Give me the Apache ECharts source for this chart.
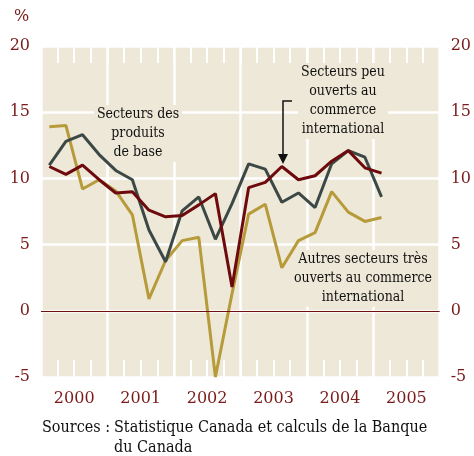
<!DOCTYPE html>
<html>
<head>
<meta charset="utf-8">
<script src="https://cdn.jsdelivr.net/npm/echarts@6/dist/echarts.min.js"></script>
<style>
html,body{margin:0;padding:0;background:#fff;}
#c{width:474px;height:456px;}
</style>
</head>
<body>
<div id="c"></div>
<script>
var years = ['2000','2001','2002','2003','2004','2005'];
var quarters = [];
years.forEach(function(y){ for (var q=1;q<=4;q++) quarters.push(y+'T'+q); });
var yTicks = [-5, 0, 5, 10, 15, 20];

// Secteurs peu ouverts au commerce international
var peuOuverts = [10.9, 10.3, 11.0, 9.9, 8.9, 9.0, 7.6, 7.1, 7.2, 8.0, 8.85, 1.8, 9.3, 9.7, 10.9, 9.9, 10.2, 11.3, 12.1, 10.8, 10.4];
// Secteurs des produits de base
var produitsBase = [11.0, 12.8, 13.3, 11.8, 10.6, 9.9, 6.1, 3.7, 7.55, 8.6, 5.4, 8.1, 11.1, 10.7, 8.2, 8.9, 7.8, 11.1, 12.1, 11.6, 8.6];
// Autres secteurs très ouverts au commerce international
var autresOuverts = [13.9, 14.0, 9.2, 9.9, 9.05, 7.25, 0.9, 3.8, 5.3, 5.55, -5.0, 1.3, 7.3, 8.05, 3.25, 5.3, 5.9, 9.0, 7.45, 6.75, 7.05];

var MAROON = '#7a1b1b';
var BG = '#ede8d7';
var SERIF = '"DejaVu Serif", serif';
var SERIF_C = '"DejaVu Serif Condensed", "DejaVu Serif", serif';

var chart = echarts.init(document.getElementById('c'), null, {renderer:'canvas'});

var tickAxis = function(pos){
  return {
    type:'category', data: quarters, position: pos, boundaryGap: true,
    axisLine:{show:false, onZero:false},
    axisTick:{show:true, inside:true, length:17, interval:0, lineStyle:{color:'#ffffff', width:2}},
    axisLabel:{show:false}, splitLine:{show:false}
  };
};

var yAxisBase = function(pos, split){
  return {
    type:'value', position: pos, min: yTicks[0], max: yTicks[yTicks.length-1], interval: 5,
    axisLine:{show:false, onZero:false}, axisTick:{show:false},
    axisLabel:{show:true, color: MAROON, fontSize:16, fontFamily: SERIF, margin: 11},
    splitLine:{show: split, lineStyle:{color:'#ffffff', width:2.5}}
  };
};

var annot = function(x, y, txt){
  return {type:'text', x:x, y:y, z:1, style:{text:txt, fill:'#111', font:'14px '+SERIF_C,
    align:'center', verticalAlign:'top', lineHeight:19, backgroundColor: BG, padding:[0,3]}};
};

chart.setOption({
  animation:false,
  backgroundColor:'#ffffff',
  grid:{left:41, right:32, top:46, height:331, show:true, backgroundColor: BG, borderWidth:0},
  xAxis:[
    tickAxis('bottom'),
    tickAxis('top'),
    {
      type:'category', data: years, position:'bottom', boundaryGap:true,
      axisLine:{show:false, onZero:false}, axisTick:{show:false},
      axisLabel:{show:true, color: MAROON, fontSize:16, fontFamily: SERIF, margin:14},
      splitLine:{show:true, lineStyle:{color:'#ffffff', width:2.5}}
    }
  ],
  yAxis:[ yAxisBase('left', true), yAxisBase('right', false) ],
  series:[
    {type:'line', name:'Autres secteurs très ouverts', data: autresOuverts, xAxisIndex:0, yAxisIndex:0, z:3,
     symbol:'none', lineStyle:{color:'#b79b3b', width:3}, itemStyle:{color:'#b79b3b'},
     markLine:{silent:true, symbol:'none', label:{show:false},
       lineStyle:{color:'#6e1010', width:1, type:'solid'}, data:[{yAxis:0}]}},
    {type:'line', name:'Secteurs des produits de base', data: produitsBase, xAxisIndex:0, yAxisIndex:0, z:3,
     symbol:'none', lineStyle:{color:'#3c4845', width:3}, itemStyle:{color:'#3c4845'}},
    {type:'line', name:'Secteurs peu ouverts', data: peuOuverts, xAxisIndex:0, yAxisIndex:0, z:3,
     symbol:'none', lineStyle:{color:'#6e0a0e', width:3}, itemStyle:{color:'#6e0a0e'}}
  ],
  graphic:[
    {type:'text', left:14, top:9, style:{text:'%', fill:MAROON, font:'16px '+SERIF}},
    annot(138, 105, 'Secteurs des\nproduits\nde base'),
    annot(343, 63, 'Secteurs peu\nouverts au\ncommerce\ninternational'),
    annot(363, 250, 'Autres secteurs très\nouverts au commerce\ninternational'),
    {type:'polyline', z:5, shape:{points:[[292,101],[283,101],[283,155]]}, style:{stroke:'#111', lineWidth:1.5, fill:null}},
    {type:'polygon', z:5, shape:{points:[[278,154],[288,154],[283,164]]}, style:{fill:'#111'}},
    {type:'text', x:42, y:418, style:{text:'Sources :', fill:'#111', font:'16px '+SERIF_C, align:'left', verticalAlign:'top', lineHeight:20}},
    {type:'text', x:114, y:418, style:{text:'Statistique Canada et calculs de la Banque\ndu Canada', fill:'#111', font:'16px '+SERIF_C, align:'left', verticalAlign:'top', lineHeight:20}}
  ]
});
</script>
</body>
</html>
